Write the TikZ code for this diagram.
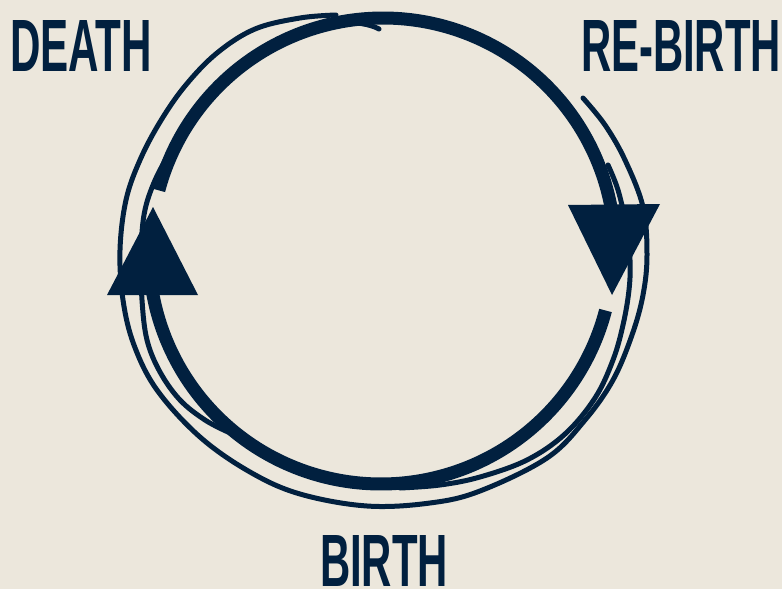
\documentclass[tikz,border=0pt]{standalone}
\usepackage{fontspec}
\setmainfont{Liberation Sans}
\usepackage{graphicx}
\definecolor{navy}{RGB}{1,32,63}
\definecolor{paper}{RGB}{236,231,220}
\begin{document}
\begin{tikzpicture}[x=1pt,y=-1pt,
  thickline/.style={draw=navy, line width=13pt, line cap=butt},
  thinline/.style={draw=navy, line width=5pt, line cap=round, line join=round},
  head/.style={fill=navy},
  lbl/.style={inner sep=0pt, outer sep=0pt, anchor=north west, text=navy, font=\bfseries}]
\fill[paper] (0,0) rectangle (782,589);
\useasboundingbox (0,0) rectangle (782,589);

% outer thin loop
\draw[thinline] plot[smooth, tension=0.6] coordinates {
 (336,15) (300,18) (255,29) (217,53) (185,86) (160,122) (140,160) (126,200)
 (120,250) (123,300) (134,345) (157,390) (200,437) (250,472) (300,494)
 (367,506) (430,503) (480,491) (547,458) (585,420) (613,380) (632,335)
 (643,295) (647,255) (643,207) (625,160) (605,125) (583,98)};

% middle thin (left side)
\draw[thinline] plot[smooth, tension=0.6] coordinates {
 (225,80) (205,99) (185,125) (168,155) (153,185) (144,215) (141,255)
 (142,300) (147,340) (160,372) (180,400) (205,420) (228,432)};

% inner thin (bottom right)
\draw[thinline] plot[smooth, tension=0.6] coordinates {
 (400,488) (440,485) (480,477) (527,460) (565,434) (595,398) (613,360)
 (623,325) (629,290) (630,260) (626,225) (618,190) (608,165)};

% small hook at the top
\draw[thinline] (336,22) .. controls (356,22) and (370,24) .. (379,29);

% thick arcs
\draw[thickline] plot[domain=194.9:360, samples=120, smooth] ({383+232*cos(\x)},{250+232*sin(\x)});
\draw[thickline] plot[domain=14.6:180, samples=120, smooth] ({381+232*cos(\x)},{252+232*sin(\x)});

% arrowheads
\fill[head] (568,205) -- (660,204) -- (612,295) -- cycle;
\fill[head] (107,295) -- (198,295) -- (153,207) -- cycle;

% labels
\node[lbl] (death) at (10,20.7) {\resizebox{142pt}{51pt}{DEATH}};
\node[lbl] (rebirth) at (581,20.7) {\resizebox{200pt}{51pt}{RE-BIRTH}};
\node[lbl] (birth) at (320,535) {\resizebox{128pt}{51pt}{BIRTH}};
\end{tikzpicture}
\end{document}
